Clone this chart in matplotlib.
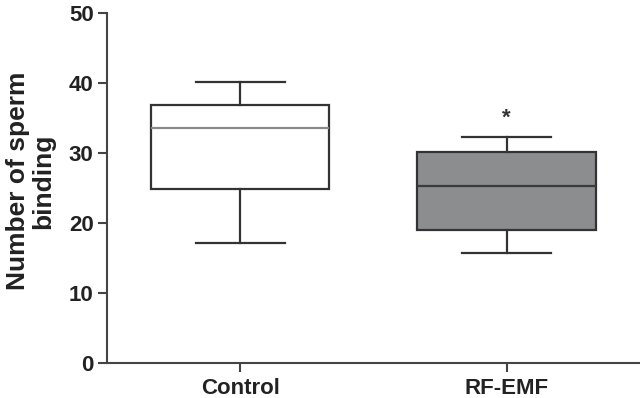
# box plot of sperm binding, control vs RF-EMF
import matplotlib
matplotlib.use('Agg')
import matplotlib.pyplot as plt

plt.rcParams['font.family'] = ['Liberation Sans', 'DejaVu Sans']
plt.rcParams['font.weight'] = 'bold'

# values
groups = ['Control', 'RF-EMF']
whislo = [17.2, 15.7]
q1 = [24.9, 19.0]
med = [33.6, 25.3]
q3 = [36.9, 30.2]
whishi = [40.2, 32.3]
fills = ['white', '#8c8d8f']
med_colors = ['#8a8a8a', '#3a3a3a']

stats = []
for i, g in enumerate(groups):
    stats.append(dict(label=g, whislo=whislo[i], q1=q1[i], med=med[i],
                      q3=q3[i], whishi=whishi[i], fliers=[]))

fig = plt.figure(figsize=(6.4, 3.98), dpi=100)
ax = fig.add_axes([0.167, 0.088, 0.833, 0.879])

line = '#333333'
bp = ax.bxp(stats, positions=[1, 2], widths=0.67, patch_artist=True,
            showfliers=False,
            boxprops=dict(edgecolor=line, linewidth=1.6),
            whiskerprops=dict(color=line, linewidth=1.6),
            capprops=dict(color=line, linewidth=1.6),
            medianprops=dict(linewidth=1.6),
            capwidths=0.335)
for patch, c in zip(bp['boxes'], fills):
    patch.set_facecolor(c)
for m, c in zip(bp['medians'], med_colors):
    m.set_color(c)

# significance mark
ax.text(2, whishi[1] + 1.2, '*', ha='center', va='bottom', fontsize=16,
        color='#333333')

ax.set_xlim(0.5, 2.5)
ax.set_ylim(0, 50)
ax.set_yticks([0, 10, 20, 30, 40, 50])
ax.spines['top'].set_visible(False)
ax.spines['right'].set_visible(False)
for s in ['left', 'bottom']:
    ax.spines[s].set_linewidth(1.5)
    ax.spines[s].set_color('#444444')
ax.tick_params(axis='both', length=6.5, width=1.5, color='#444444',
               labelsize=16, labelcolor='#222222', pad=3)
ax.tick_params(axis='x', labelsize=16, pad=4.5)
ax.set_ylabel('Number of sperm\nbinding', fontsize=19, fontweight='bold',
              color='#222222', linespacing=1.08)
ax.yaxis.set_label_coords(-0.096, 0.52)

plt.savefig('out.png', dpi=100)
